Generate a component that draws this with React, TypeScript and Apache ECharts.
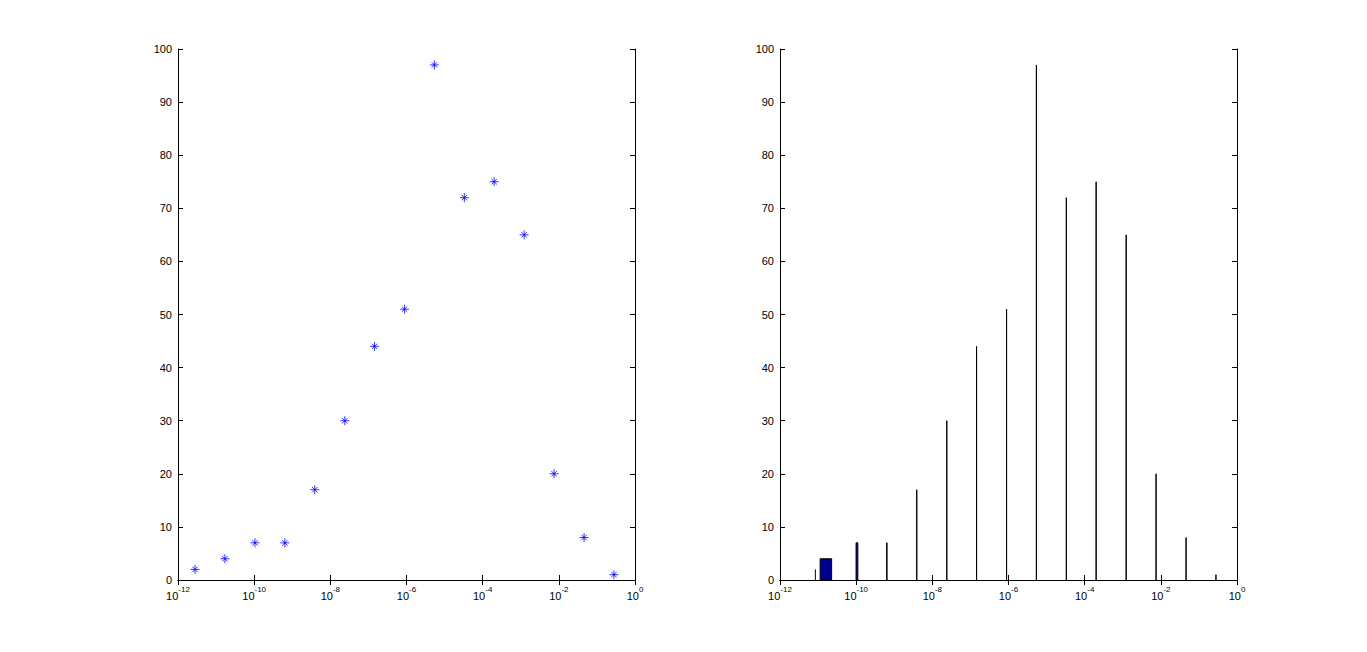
import { useEffect, useRef } from "react";
import * as echarts from "echarts";

// x positions and counts
const xValues: number[] = [
  2.8e-12, 1.7e-11, 1.05e-10, 6.4e-10, 3.9e-9, 2.4e-8, 1.45e-7, 8.9e-7,
  5.4e-6, 3.3e-5, 2.0e-4, 1.23e-3, 7.5e-3, 4.6e-2, 0.28,
];
const counts: number[] = [2, 4, 7, 7, 17, 30, 44, 51, 97, 72, 75, 65, 20, 8, 1];
const yTicks = { min: 0, max: 100, interval: 10 };
const xRange = { min: 1e-12, max: 1, decadeStep: 2 };

const FONT = "'Liberation Sans', Arial, sans-serif";
const STAR = "path://M4,0L4,8M0,4L8,4M1.6,1.6L6.4,6.4M1.6,6.4L6.4,1.6";

const App: React.FC = () => {
  const chartRef = useRef<HTMLDivElement>(null);

  useEffect(() => {
    const chart = echarts.init(chartRef.current!, null, { renderer: "svg" });

    const points = xValues.map((x, i) => [x, counts[i]]);
    // matlab bar width: 0.8 of the smallest gap, in linear units
    let minGap = Infinity;
    for (let i = 1; i < xValues.length; i++) minGap = Math.min(minGap, xValues[i] - xValues[i - 1]);
    const halfW = 0.4 * minGap;

    const grids = [
      { left: 178, top: 49, width: 457, height: 531 },
      { left: 780, top: 49, width: 457, height: 531 },
    ];

    const line = { show: true, lineStyle: { color: "#000", width: 1 } };
    const tick = { show: true, inside: true, length: 5, lineStyle: { color: "#000" } };

    const xAxes: any[] = [];
    const yAxes: any[] = [];
    grids.forEach((_, g) => {
      ["bottom", "top"].forEach((pos) => {
        xAxes.push({
          type: "log",
          logBase: 10,
          gridIndex: g,
          position: pos,
          min: xRange.min,
          max: xRange.max,
          interval: xRange.decadeStep,
          axisLine: line,
          axisTick: tick,
          minorTick: { show: false },
          splitLine: { show: false },
          axisLabel: {
            show: pos === "bottom",
            margin: 5,
            formatter: (v: number) => `{b|10}{s|${Math.round(Math.log10(v))}}`,
            rich: {
              b: { fontSize: 11, fontFamily: FONT, color: "#000", verticalAlign: "bottom", lineHeight: 16 },
              s: { fontSize: 8, fontFamily: FONT, color: "#000", verticalAlign: "top", lineHeight: 16 },
            },
          },
        });
      });
      ["left", "right"].forEach((pos) => {
        yAxes.push({
          type: "value",
          gridIndex: g,
          position: pos,
          min: yTicks.min,
          max: yTicks.max,
          interval: yTicks.interval,
          axisLine: line,
          axisTick: tick,
          splitLine: { show: false },
          axisLabel: {
            show: pos === "left",
            margin: 6,
            fontSize: 11,
            fontFamily: FONT,
            color: "#000",
          },
        });
      });
    });

    const option: echarts.EChartsOption = {
      animation: false,
      backgroundColor: "#fff",
      grid: grids,
      xAxis: xAxes,
      yAxis: yAxes,
      series: [
        {
          type: "scatter",
          xAxisIndex: 0,
          yAxisIndex: 0,
          data: points,
          symbol: STAR,
          symbolSize: 9,
          itemStyle: { color: "rgba(0,0,0,0)", borderColor: "#0000ff", borderWidth: 1 },
          emphasis: { disabled: true },
        },
        {
          type: "custom",
          xAxisIndex: 2,
          yAxisIndex: 2,
          data: points,
          renderItem: (_params: any, api: any) => {
            const x = api.value(0);
            const y = api.value(1);
            const right = x + halfW;
            const left = x - halfW;
            const b = api.coord([right, 0]);
            const t = api.coord([right, y]);
            if (left <= 0) {
              return {
                type: "line",
                shape: { x1: b[0], y1: b[1], x2: t[0], y2: t[1] },
                style: { stroke: "#000", lineWidth: 1 },
              };
            }
            const p = api.coord([left, y]);
            return {
              type: "rect",
              shape: { x: p[0], y: p[1], width: b[0] - p[0], height: b[1] - p[1] },
              style: { fill: "#00008f", stroke: "#000", lineWidth: 1 },
            };
          },
        },
      ],
    };
    chart.setOption(option);

    return () => chart.dispose();
  }, []);

  return (
    <div
      ref={chartRef}
      style={{ position: "fixed", left: 0, top: 0, width: 1367, height: 652, background: "#fff" }}
    />
  );
};

export default App;
